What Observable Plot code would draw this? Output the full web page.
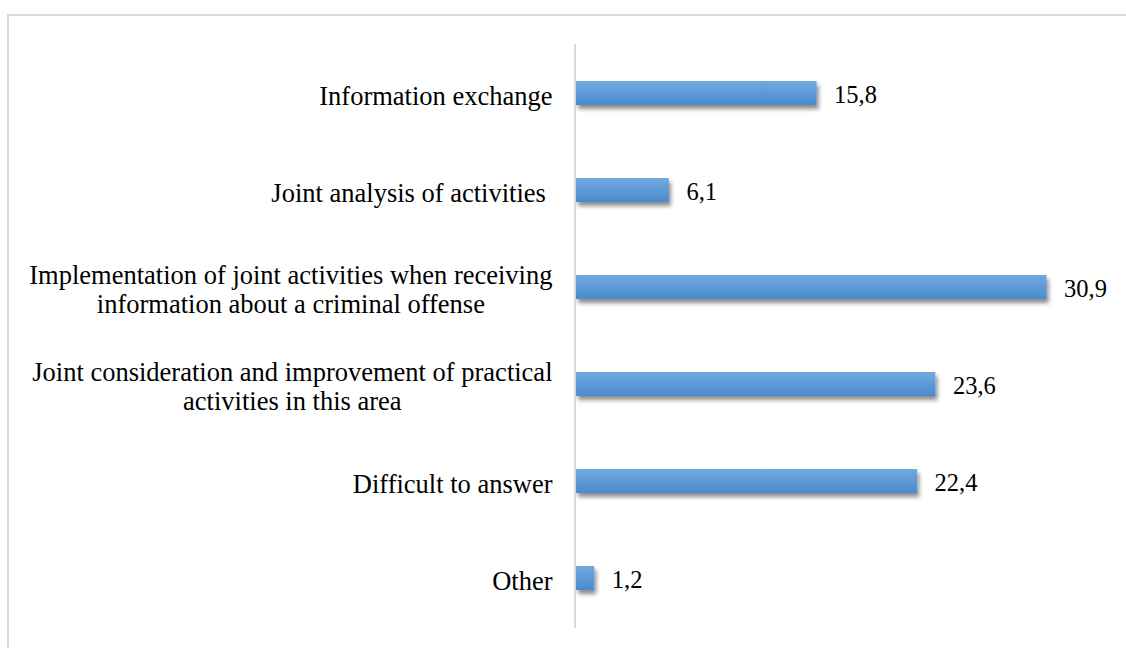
<!DOCTYPE html>
<html>
<head>
<meta charset="utf-8">
<script src="https://cdn.jsdelivr.net/npm/d3@7"></script>
<script src="https://cdn.jsdelivr.net/npm/@observablehq/plot@0.6"></script>
<style>
  html, body { margin: 0; padding: 0; background: #fff; overflow: hidden; }
  #frame { position: absolute; left: 7px; top: 14px; width: 1200px; height: 700px;
           border-top: 2px solid #d9d9d9; border-left: 2px solid #d9d9d9; }
  #chart { position: absolute; left: 0; top: 0; }
  #chart svg text { white-space: pre; font-family: "Liberation Serif", "Times New Roman", "DejaVu Serif", serif; }
</style>
</head>
<body>
<div id="frame"></div>
<div id="chart"></div>
<script>
const categories = [
  "Information exchange",
  "Joint analysis of activities ",
  "Implementation of joint activities when receiving\ninformation about a criminal offense",
  "Joint consideration and improvement of practical\nactivities in this area",
  "Difficult to answer",
  "Other"
];
const values = [15.8, 6.1, 30.9, 23.6, 22.4, 1.2];
const valueLabels = ["15,8", "6,1", "30,9", "23,6", "22,4", "1,2"];

const data = categories.map((c, i) => ({category: c, value: values[i], label: valueLabels[i]}));

const font = "\"Liberation Serif\", \"Times New Roman\", serif";

const chart = Plot.plot({
  width: 1126,
  height: 648,
  marginLeft: 576,
  marginRight: 17,
  marginTop: 44,
  marginBottom: 20,
  style: {fontFamily: font, fontSize: "24px", color: "#000", background: "transparent"},
  x: {domain: [0, 35], axis: null},
  y: {domain: categories, paddingInner: 0.75, paddingOuter: 0.375, label: null, axis: null},
  marks: [
    Plot.barX(data, {x: "value", y: "category", fill: "url(#barGrad)"}),
    Plot.ruleX([0], {stroke: "#d9d9d9", strokeWidth: 2, dx: -1.5}),
    Plot.text(data, {x: "value", y: "category", text: "label", textAnchor: "start", dx: 17, dy: 1.5, fontSize: 24.5, fill: "#000"}),
    Plot.axisY({tickSize: 0, tickPadding: 24, dy: 2, fontSize: 26.5, lineHeight: 1.1, label: null, fill: "#000"})
  ]
});

document.getElementById("chart").appendChild(chart);

// gradient + shadow definitions
const ns = "http://www.w3.org/2000/svg";
const defs = document.createElementNS(ns, "defs");
defs.innerHTML = `
  <linearGradient id="barGrad" x1="0" y1="0" x2="0" y2="1">
    <stop offset="0" stop-color="#72a9df"/>
    <stop offset="1" stop-color="#4a8bd0"/>
  </linearGradient>
  <filter id="shadow" x="-10%" y="-50%" width="130%" height="250%">
    <feDropShadow dx="2" dy="4" stdDeviation="2.2" flood-color="#000" flood-opacity="0.45"/>
  </filter>`;
chart.insertBefore(defs, chart.firstChild);
const barG = chart.querySelector('g[aria-label="bar"]');
if (barG) barG.setAttribute("filter", "url(#shadow)");

// center multi-line tick labels within their right-aligned block
chart.querySelectorAll('g[aria-label="y-axis tick label"] text').forEach(t => {
  const spans = t.querySelectorAll("tspan");
  if (spans.length > 1) {
    let w = 0;
    spans.forEach(s => { w = Math.max(w, s.getComputedTextLength()); });
    t.setAttribute("text-anchor", "middle");
    spans.forEach(s => s.setAttribute("x", -w / 2));
  }
});
</script>
</body>
</html>
